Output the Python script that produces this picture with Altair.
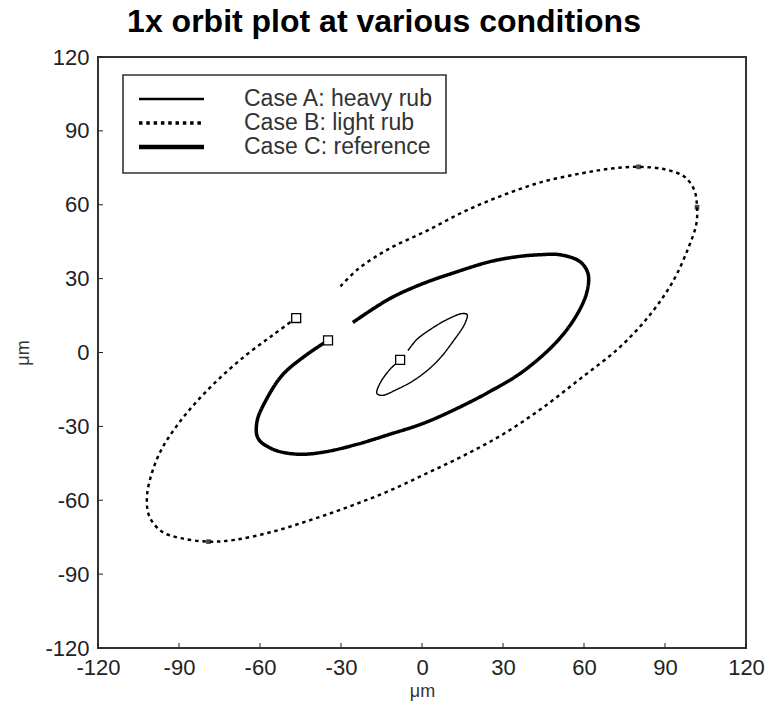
import altair as alt
import pandas as pd

# ---------------- data ----------------
case_a_x = [-8.1, -11.9, -15.6, -16.7, -14.8, -9.3, -1.9, 5.6, 11.5, 15.9, 16.7, 14.8, 9.3, 3.0, -1.9, -5.2]
case_a_y = [-3.0, -6.9, -12.6, -16.6, -17.4, -15.0, -10.5, -3.6, 4.5, 11.8, 15.4, 15.8, 13.4, 9.3, 5.3, 0.8]

case_b_x = [-46.6, -55.1, -65.1, -75.1, -83.6, -90.7, -96.4, -100.0, -101.85, -101.0, -96.4, -89.3,
            -79.1, -69.4, -55.1, -40.9, -26.6, -12.4, 1.9, 16.1, 30.3, 44.6, 58.8, 73.1, 84.5, 93.0,
            98.7, 101.6, 101.85, 100.9, 97.3, 90.2, 80.2, 70.2, 58.8, 44.6, 30.3, 16.1, 1.9, -12.4,
            -23.8, -30.5]
case_b_y = [14.0, 7.2, -1.0, -10.6, -20.1, -29.6, -39.2, -48.8, -58.4, -66.5, -72.7, -75.4,
            -76.8, -76.1, -72.7, -67.9, -62.4, -56.3, -49.0, -41.5, -33.0, -22.5, -10.5, 2.0, 15.4, 29.0,
            42.6, 52.2, 59.0, 65.8, 71.3, 74.3, 75.4, 74.7, 72.7, 69.3, 64.0, 57.5, 49.5, 42.0,
            33.8, 26.5]

case_c_x = [-34.8, -42.6, -51.5, -57.4, -61.1, -60.7, -55.2, -46.3, -36.7, -24.1, -11.9, 0.4, 13.0,
            25.2, 37.4, 50.0, 57.4, 61.1, 61.5, 58.5, 51.1, 43.7, 35.2, 25.2, 13.0, 0.4, -11.9, -25.6]
case_c_y = [4.9, -0.8, -8.9, -18.6, -28.0, -34.9, -39.3, -41.3, -40.5, -37.3, -33.2, -28.8, -22.7,
            -15.8, -7.7, 4.5, 15.4, 24.7, 32.0, 36.9, 39.7, 39.7, 38.9, 36.9, 32.8, 28.0, 21.9, 12.2]

case_names = ["Case A: heavy rub", "Case B: light rub", "Case C: reference"]
case_widths = [1.4, 3.5, 3.6]
case_dashes = [[1, 0], [3.5, 3.8], [1, 0]]

# small filled squares on the dotted orbit
keyph_x = [-79.1, 80.2, 101.85]
keyph_y = [-76.8, 75.4, 59.0]

ticks = [-120, -90, -60, -30, 0, 30, 60, 90, 120]

W, H = 648, 591
FONT = "Liberation Sans"

# ---------------- tables ----------------
rows = []
for name, xs, ys in zip(case_names, [case_a_x, case_b_x, case_c_x], [case_a_y, case_b_y, case_c_y]):
    for i, (xv, yv) in enumerate(zip(xs, ys)):
        rows.append({"case": name, "x": xv, "y": yv, "order": i})
df = pd.DataFrame(rows)
starts = df[df["order"] == 0]
keyph = pd.DataFrame({"x": keyph_x, "y": keyph_y})
tick_df = pd.DataFrame({"v": ticks})

xscale = alt.Scale(domain=[-120, 120], nice=False, zero=False)
yscale = alt.Scale(domain=[-120, 120], nice=False, zero=False)

lines = alt.Chart(df).mark_line(color="black", strokeCap="butt", strokeJoin="round",
                                interpolate="catmull-rom").encode(
    x=alt.X("x:Q", scale=xscale,
            axis=alt.Axis(values=ticks, title="μm", labelExpr="datum.value + ''")),
    y=alt.Y("y:Q", scale=yscale,
            axis=alt.Axis(values=ticks, title="μm", labelExpr="datum.value + ''")),
    detail="case:N",
    order="order:Q",
    strokeWidth=alt.StrokeWidth("case:N", scale=alt.Scale(domain=case_names, range=case_widths), legend=None),
    strokeDash=alt.StrokeDash("case:N", scale=alt.Scale(domain=case_names, range=case_dashes), legend=None),
)

start_pts = alt.Chart(starts).mark_point(shape="square", filled=True, fill="white", stroke="black",
                                         strokeWidth=1.3, size=80, opacity=1).encode(
    x=alt.X("x:Q", scale=xscale), y=alt.Y("y:Q", scale=yscale))

key_pts = alt.Chart(keyph).mark_point(shape="square", filled=True, color="black", size=22).encode(
    x=alt.X("x:Q", scale=xscale), y=alt.Y("y:Q", scale=yscale))

xticks = alt.Chart(tick_df).mark_rule(color="#222", strokeWidth=1).encode(
    x=alt.X("v:Q", scale=xscale), y=alt.value(H), y2=alt.value(H - 5))
yticks = alt.Chart(tick_df).mark_rule(color="#222", strokeWidth=1).encode(
    y=alt.Y("v:Q", scale=yscale), x=alt.value(0), x2=alt.value(5))

# ----- legend drawn inside the plot -----
leg_box = alt.Chart(pd.DataFrame({"a": [0]})).mark_rect(fill="white", stroke="#333", strokeWidth=1.6).encode(
    x=alt.value(25), x2=alt.value(348), y=alt.value(18), y2=alt.value(116))
leg_layers = [leg_box]
row_y = [42, 66, 90]
for name, wdt, dash, ry in zip(case_names, [2.6, 3.6, 4.6], case_dashes, row_y):
    one = pd.DataFrame({"label": [name]})
    leg_layers.append(alt.Chart(one).mark_rule(color="black", strokeWidth=wdt, strokeDash=dash).encode(
        x=alt.value(41), x2=alt.value(106), y=alt.value(ry)))
    leg_layers.append(alt.Chart(one).mark_text(align="left", baseline="middle", font=FONT, fontSize=23,
                                               color="#333").encode(
        x=alt.value(146), y=alt.value(ry), text="label:N"))

chart = alt.layer(lines, start_pts, key_pts, xticks, yticks, *leg_layers).properties(
    width=W, height=H,
    autosize=alt.AutoSizeParams(type="none"),
    padding={"left": 98, "top": 57, "right": 21, "bottom": 60},
    title=alt.TitleParams("1x orbit plot at various conditions", fontSize=32, fontWeight="bold",
                          font=FONT, color="black", anchor="middle", dx=-38, offset=7),
).configure_view(stroke="#333", strokeWidth=2).configure_axis(
    grid=False, domain=False, ticks=False, labelFont=FONT, labelFontSize=22, labelColor="#222",
    titleFont=FONT, titleFontSize=18, titleFontWeight="normal", titleColor="#333",
    labelFlush=False, labelOverlap=False,
).configure_axisX(labelPadding=9, titlePadding=4).configure_axisY(labelPadding=9, titlePadding=12)

chart.save("out.html", embed_options={"renderer": "svg", "actions": False})
